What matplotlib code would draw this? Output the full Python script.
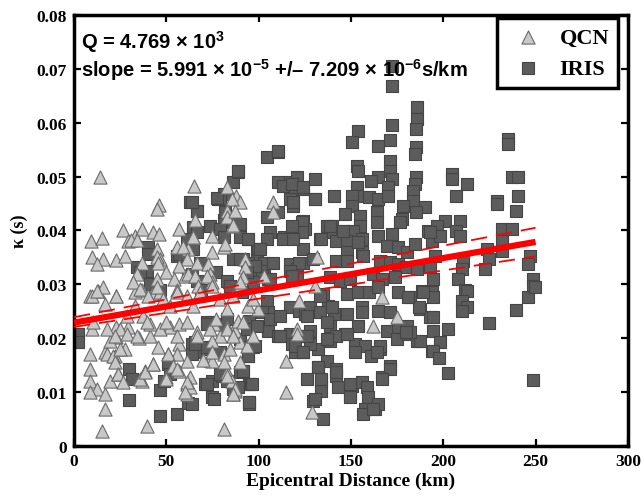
import numpy as np
import matplotlib
matplotlib.use('Agg')
import matplotlib.pyplot as plt

# QCN stations: (epicentral distance km, kappa s)
qcn_pts = [
    (14, 0.050), (65, 0.0482), (46, 0.0447), (45, 0.044), (83, 0.048), (88, 0.0464), (90, 0.0453), (85.5, 0.0458), (83, 0.0436),
    (9, 0.038), (15, 0.0386), (26.5, 0.040), (33, 0.039), (37, 0.0403), (43, 0.0397), (46, 0.0393), (29, 0.038), (31, 0.0382), (34, 0.0382),
    (10, 0.035), (15.5, 0.0347), (12.5, 0.0338), (23, 0.0345), (27.5, 0.0352), (45, 0.0365), (46.5, 0.0347),
    (56, 0.037), (64.5, 0.0388), (62, 0.0365), (75, 0.039), (81, 0.037), (86, 0.0408), (57, 0.0403), (59, 0.037), (61, 0.0347), (60, 0.0315),
    (37, 0.034), (34, 0.032), (45, 0.035), (45.5, 0.034), (45, 0.031), (50, 0.0323), (57, 0.0334), (62, 0.032), (54, 0.031), (56, 0.029),
    (13, 0.0288), (15.5, 0.0295), (8.5, 0.0278), (23, 0.0278), (33, 0.0286), (37, 0.029), (42, 0.0282), (46.5, 0.0286),
    (9.6, 0.0217), (8.7, 0.017), (17, 0.0175), (22, 0.0167), (8.7, 0.0143), (8.7, 0.012), (12.5, 0.0106), (8.7, 0.010), (17, 0.0097),
    (17, 0.0069), (19.5, 0.012), (24, 0.0134), (15, 0.0028), (39.5, 0.0037),
    (27.6, 0.018), (23, 0.0202), (19.5, 0.0195), (35, 0.020), (41, 0.0204), (29, 0.022), (23, 0.022),
    (43, 0.0152), (38.5, 0.0139), (37, 0.012), (45.5, 0.0184), (51, 0.017), (41, 0.0226), (52, 0.022),
    (57, 0.0226), (57, 0.019), (56, 0.017), (61, 0.0158), (57, 0.0139), (61, 0.0115), (61, 0.0097), (50, 0.0128),
    (108, 0.0453), (108, 0.0434), (65.5, 0.042), (83, 0.0425), (86, 0.041), (87, 0.0436), (64.5, 0.0388), (82, 0.0375), (75, 0.036),
    (66.5, 0.034), (72.5, 0.0338), (73.5, 0.032), (65.5, 0.0315), (67, 0.0297), (75, 0.0304), (92.5, 0.0347), (92.5, 0.0332),
    (91.5, 0.0313), (90, 0.0297), (103, 0.0315),
    (99.6, 0.0254), (76, 0.0226), (66.5, 0.0211), (87, 0.0213), (83, 0.022), (79, 0.0204), (89, 0.0232), (75, 0.0195), (90, 0.0193),
    (81, 0.017), (73.5, 0.016), (75, 0.0158), (115, 0.0158), (120.7, 0.0217), (122, 0.0269),
    (83, 0.0137), (85.5, 0.012), (87, 0.0102), (86, 0.0096), (115, 0.010), (81, 0.0032), (63, 0.0128), (63, 0.011), (129, 0.0063),
    (131.5, 0.035), (130.5, 0.0297), (120.7, 0.0208), (167, 0.0276), (175, 0.024), (162, 0.0223),
    (18, 0.017), (21, 0.0167), (22, 0.0156), (25, 0.018), (24, 0.0134), (26.5, 0.0119), (36, 0.0124), (38.5, 0.0137), (43, 0.0152),
    (51, 0.017), (53.6, 0.0148), (50, 0.0124), (56, 0.0143), (61, 0.0119), (60, 0.010),
    (70, 0.016), (75, 0.0174), (81, 0.0156), (84.5, 0.018), (90, 0.0156), (93.7, 0.0186), (83, 0.013), (87, 0.0106), (86, 0.0096),
    (32, 0.0304), (35.7, 0.0291), (40, 0.0278), (45, 0.0295), (48, 0.0273), (52, 0.026), (55.8, 0.0286), (61, 0.0278), (64.5, 0.026),
    (68, 0.0286), (72, 0.0315), (75, 0.0297), (79, 0.0273), (83, 0.0254), (86, 0.0278), (90, 0.0304), (94, 0.026), (97, 0.0273),
    (33, 0.026), (37.5, 0.0241), (28.5, 0.0241), (25, 0.0217), (18, 0.0217), (22, 0.0204), (28.5, 0.0208), (34, 0.0204), (39.5, 0.023),
    (46.5, 0.0217), (50, 0.023), (56, 0.0204), (61, 0.023), (66.5, 0.0204), (73.5, 0.0217), (77, 0.0236), (83, 0.0217), (86, 0.0204),
    (91.5, 0.023), (97, 0.0204), (9.7, 0.0278), (12.5, 0.0288), (16.8, 0.0263), (10.3, 0.023), (23, 0.0278),
]

# IRIS stations: (epicentral distance km, kappa s)
iris_pts = [
    (2.2, 0.0208), (2.2, 0.0193), (40, 0.037), (40, 0.0356), (30, 0.0143), (31.4, 0.0124), (30, 0.0086), (46.5, 0.0104), (46.5, 0.0056),
    (56, 0.006), (62, 0.008), (63, 0.0453), (66.5, 0.0436), (34, 0.0332), (39.5, 0.0325), (36, 0.0323), (64.5, 0.0406), (66.5, 0.0397),
    (56, 0.0352), (62, 0.0315), (61, 0.0384), (57, 0.0356),
    (78, 0.0458), (81, 0.0468), (86, 0.049), (89, 0.0508), (81, 0.042), (86, 0.0416), (90, 0.0412), (94, 0.0384), (64.5, 0.0365),
    (68, 0.034), (77, 0.0323), (86, 0.0347), (91.5, 0.0347),
    (72, 0.023), (75, 0.023), (79, 0.0226), (83, 0.0235), (65.5, 0.0193), (65.5, 0.0174), (72, 0.018), (79, 0.0174), (90, 0.0198),
    (94, 0.0167), (95, 0.023),
    (75, 0.012), (80, 0.013), (83, 0.012), (86, 0.0106), (90, 0.0137), (71, 0.0115), (75, 0.009), (95, 0.0115), (95, 0.0082),
    (99, 0.0365), (99, 0.0347), (99, 0.0323),
    (51, 0.0152), (52, 0.0134), (49, 0.012), (64, 0.019), (64, 0.017), (41, 0.030), (46.5, 0.029),
    (104.5, 0.0536), (110.5, 0.0545), (89, 0.051), (110.5, 0.049), (117, 0.049), (121, 0.050), (124, 0.0477), (118, 0.0477),
    (117, 0.0458), (118.5, 0.0445),
    (79, 0.0458), (77.5, 0.046), (82, 0.0434), (66.5, 0.0436), (64, 0.0453),
    (104.5, 0.0425), (110.5, 0.0434), (106, 0.0397), (114, 0.0388), (118.5, 0.0393), (124, 0.0417), (125, 0.0403),
    (124, 0.0365), (124, 0.034), (129.5, 0.0347), (99.6, 0.0365), (90, 0.0388), (94, 0.0384), (90, 0.0347), (94, 0.034),
    (73.5, 0.0408), (79, 0.0403), (81, 0.0388), (103, 0.034), (103, 0.0325), (102, 0.0315), (105, 0.031), (117, 0.0338),
    (121, 0.0328), (121, 0.0313),
    (64, 0.032), (66.5, 0.0306), (69, 0.029), (83, 0.0306), (84.5, 0.0297), (98, 0.0334), (97, 0.0304),
    (104.5, 0.0269), (105, 0.0249), (102, 0.0249), (117, 0.0258), (122, 0.025), (125, 0.0245), (128, 0.0258),
    (95, 0.0232), (95, 0.0217), (105, 0.0213), (110.5, 0.0204), (117, 0.0208), (121, 0.0204), (127, 0.0204),
    (72, 0.0226), (65.5, 0.019), (72, 0.0184), (97, 0.0184), (94, 0.0167), (118, 0.019), (119.5, 0.0174), (124, 0.0174),
    (91.5, 0.0139), (79, 0.0134), (72, 0.0115), (96, 0.0115), (89, 0.011), (76, 0.0087), (95, 0.0078), (126, 0.0124),
    (129.5, 0.0083), (64, 0.0078),
    (172, 0.0706), (172, 0.0668), (186, 0.0629), (186, 0.0607), (185.5, 0.0588), (172, 0.0596), (154, 0.0584), (150.5, 0.0564),
    (171, 0.0568), (164.5, 0.0557), (185.5, 0.0555), (184.5, 0.0542),
    (171, 0.0529), (171, 0.051), (172, 0.0495), (153.5, 0.052), (154, 0.051), (130.5, 0.0495), (130.5, 0.0458), (164.5, 0.050),
    (161, 0.0492), (185.5, 0.0499), (184.5, 0.0486), (183.5, 0.0473), (183.5, 0.0455), (190, 0.0443), (185.5, 0.0434),
    (153.5, 0.048), (153.5, 0.0464), (150.5, 0.0464), (160, 0.0462), (164.5, 0.0458), (170, 0.048), (170, 0.0464), (141, 0.0464),
    (150.5, 0.0445), (146.7, 0.043), (155, 0.0427), (155, 0.0408), (164, 0.0434), (164, 0.0416), (178, 0.0445), (177.5, 0.0421),
    (176.5, 0.0416),
    (139.7, 0.0408), (137, 0.0408), (138.6, 0.0397), (146.7, 0.0399), (151, 0.0399), (133, 0.0384), (142, 0.038), (148, 0.038),
    (156, 0.0384), (156, 0.036), (148, 0.036), (164.5, 0.039), (172, 0.0393), (169.5, 0.0371), (175.5, 0.0369), (180.3, 0.036),
    (184.5, 0.0375), (191.7, 0.0399), (193.8, 0.038),
    (142, 0.0343), (148, 0.0343), (156.5, 0.0352), (165.5, 0.0343), (171, 0.0341), (175.5, 0.0338), (180, 0.0332), (186, 0.0328),
    (193, 0.0332),
    (138.6, 0.0313), (144, 0.0306), (149.4, 0.031), (162, 0.032), (167, 0.031), (174, 0.0313),
    (135, 0.0282), (148, 0.0282), (154, 0.0286), (160, 0.0286), (164.5, 0.0295), (175.5, 0.0286), (182, 0.0276), (188.4, 0.0288),
    (193.8, 0.0286),
    (137.5, 0.026), (141, 0.0245), (148, 0.0245), (156, 0.0258), (156, 0.0249), (164.5, 0.025), (171, 0.0249), (187.3, 0.0254),
    (192.7, 0.024),
    (138.6, 0.0223), (138.6, 0.0195), (146.7, 0.0208), (153.8, 0.0223), (169.5, 0.0213), (175.5, 0.022),
    (132, 0.018), (152, 0.019), (157.5, 0.0186), (152, 0.0174), (161, 0.0167), (165.7, 0.018), (175, 0.0198), (181, 0.0208),
    (186, 0.0195), (194, 0.0176),
    (132, 0.0147), (137, 0.0158), (142, 0.0143), (142, 0.013), (171, 0.0148), (167, 0.0128), (171, 0.0143),
    (134, 0.012), (134, 0.0102), (143, 0.011), (150.5, 0.0111), (156, 0.0119), (158.6, 0.011), (159, 0.0091), (149.4, 0.0093),
    (130.5, 0.0087), (135, 0.005), (157.5, 0.0069), (163, 0.0069), (164.5, 0.0078), (156.5, 0.006), (128, 0.019), (128, 0.0213),
    (235, 0.057), (235, 0.056), (205, 0.0505), (205, 0.0495), (213, 0.0486), (237, 0.050), (240.5, 0.050), (207, 0.0464),
    (229, 0.0455), (229, 0.045), (240.5, 0.0464), (239.3, 0.0436),
    (201, 0.0417), (196.5, 0.0408), (198, 0.039), (192.7, 0.0397), (209, 0.0417), (207, 0.0399), (209, 0.039),
    (231.7, 0.0403), (231.7, 0.038), (237, 0.0403), (231.7, 0.0362), (223.6, 0.0365), (225, 0.0347), (222.5, 0.0328),
    (210.6, 0.0343), (210, 0.0328), (208, 0.031),
    (247, 0.0352), (246, 0.0338), (248.5, 0.031), (248.5, 0.0297), (195.5, 0.0352), (194.4, 0.031), (211.7, 0.029),
    (194.4, 0.0276), (213, 0.0288), (210, 0.0269), (213, 0.0258), (210, 0.025), (246, 0.0276), (249.6, 0.0295), (239.3, 0.0252),
    (225, 0.0228),
    (194.4, 0.024), (194.4, 0.0213), (202.5, 0.0217), (198, 0.0193), (194.4, 0.0176), (197.6, 0.0163), (202.5, 0.0135),
    (248.5, 0.0122),
    (189, 0.0286), (187, 0.0258), (181, 0.0276), (180.3, 0.0223), (187.3, 0.0195), (182, 0.0211),
    (110.5, 0.0547), (113, 0.0482), (118, 0.0486), (130.5, 0.0458), (124, 0.048), (118.6, 0.0453),
    (123.4, 0.0416), (123.4, 0.0397), (104.5, 0.0384), (118, 0.0408), (113, 0.0384), (118.6, 0.0384), (134, 0.0384),
    (138.6, 0.0408), (145.6, 0.0399), (153.8, 0.0378),
    (122, 0.034), (117, 0.0325), (118, 0.0315), (100.7, 0.0365), (107.7, 0.034), (106, 0.031), (93.7, 0.0323), (91, 0.0286),
    (93.7, 0.0217), (99, 0.0223), (106, 0.0235), (111.5, 0.0241), (111.5, 0.0204), (126, 0.0241), (126, 0.0204), (133, 0.0278),
    (133, 0.0249), (140, 0.0258),
    (137, 0.023), (142, 0.0204), (148, 0.0208), (137, 0.0198), (119.6, 0.0186), (124, 0.0174), (95, 0.0184), (98, 0.0186),
    (91.5, 0.0139), (96.4, 0.0115),
    (132, 0.0147), (134, 0.0124), (142, 0.0137), (149.4, 0.0115), (149.4, 0.0091), (95, 0.0082), (162, 0.0069), (167, 0.0124),
    (180, 0.0211), (165.7, 0.0186), (164, 0.0174),
]

# linear fit and its bounds: (intercept, slope)
fit_range = [0, 250]
fit_line = (0.0229, 5.991e-5)
fit_upper = (0.0239, 6.64e-5)
fit_lower = (0.0221, 5.24e-5)

x_ticks = [0, 50, 100, 150, 200, 250, 300]
y_ticks = [0, 0.01, 0.02, 0.03, 0.04, 0.05, 0.06, 0.07, 0.08]
y_ticklabels = ['0', '0.01', '0.02', '0.03', '0.04', '0.05', '0.06', '0.07', '0.08']

qcn = np.array(qcn_pts)
iris = np.array(iris_pts)

plt.rcParams['font.family'] = 'Liberation Serif'
plt.rcParams['font.weight'] = 'bold'
plt.rcParams['mathtext.fontset'] = 'custom'
plt.rcParams['mathtext.rm'] = 'Liberation Sans:bold'
plt.rcParams['mathtext.bf'] = 'Liberation Sans:bold'
plt.rcParams['mathtext.default'] = 'bf'

fig = plt.figure(figsize=(6.42, 5.02), dpi=100, facecolor='white')
ax = fig.add_axes([0.1153, 0.1096, 0.8627, 0.8586])

# IRIS below, QCN on top
sq = ax.scatter(iris[:, 0], iris[:, 1], marker='s', s=64, facecolor='#5c5c5c', edgecolor='#454545', linewidth=0.8, label='IRIS', zorder=2)
tr = ax.scatter(qcn[:, 0], qcn[:, 1], marker='^', s=90, facecolor='#c8c8c8', edgecolor='#6a6a6a', linewidth=0.8, label='QCN', zorder=3)

xs = np.array(fit_range, dtype=float)
ax.plot(xs, fit_line[0] + fit_line[1] * xs, color='red', lw=4.5, zorder=5, solid_capstyle='butt')
ax.plot(xs, fit_upper[0] + fit_upper[1] * xs, color='red', lw=1.3, ls=(0, (9, 5)), zorder=5)
ax.plot(xs, fit_lower[0] + fit_lower[1] * xs, color='red', lw=1.3, ls=(0, (9, 5)), zorder=5)

ax.set_xlim(0, 300)
ax.set_ylim(0, 0.08)
ax.set_xticks(x_ticks)
ax.set_xticklabels([str(t) for t in x_ticks])
ax.set_yticks(y_ticks)
ax.set_yticklabels(y_ticklabels)
ax.tick_params(direction='in', top=True, right=True, length=5, width=1.6, labelsize=12.5, pad=5)
for sp in ax.spines.values():
    sp.set_linewidth(2.5)

ax.set_xlabel('Epicentral Distance (km)', fontsize=14, fontweight='bold', labelpad=2)
ax.set_ylabel('κ (s)', fontsize=13, fontweight='bold', labelpad=6)

# annotation
ax.text(0.0135, 0.94, 'Q = 4.769 × 10$^{3}$', transform=ax.transAxes, family='Liberation Sans', fontsize=14.5, fontweight='bold', va='center', zorder=6)
ax.text(0.0135, 0.875, 'slope = 5.991 × 10$^{-5}$ +/– 7.209 × 10$^{-6}$s/km', transform=ax.transAxes, family='Liberation Sans', fontsize=14.5, fontweight='bold', va='center', zorder=6)

leg = ax.legend(handles=[tr, sq], loc='upper right', bbox_to_anchor=(0.982, 0.993), fancybox=False, framealpha=1, edgecolor='black',
                prop={'family': 'Liberation Serif', 'weight': 'bold', 'size': 16}, borderpad=0.4, labelspacing=0.5,
                handlelength=2.0, handletextpad=0.4, borderaxespad=0)
leg.get_frame().set_linewidth(2.5)

plt.savefig('out.png', dpi=100, facecolor='white')
